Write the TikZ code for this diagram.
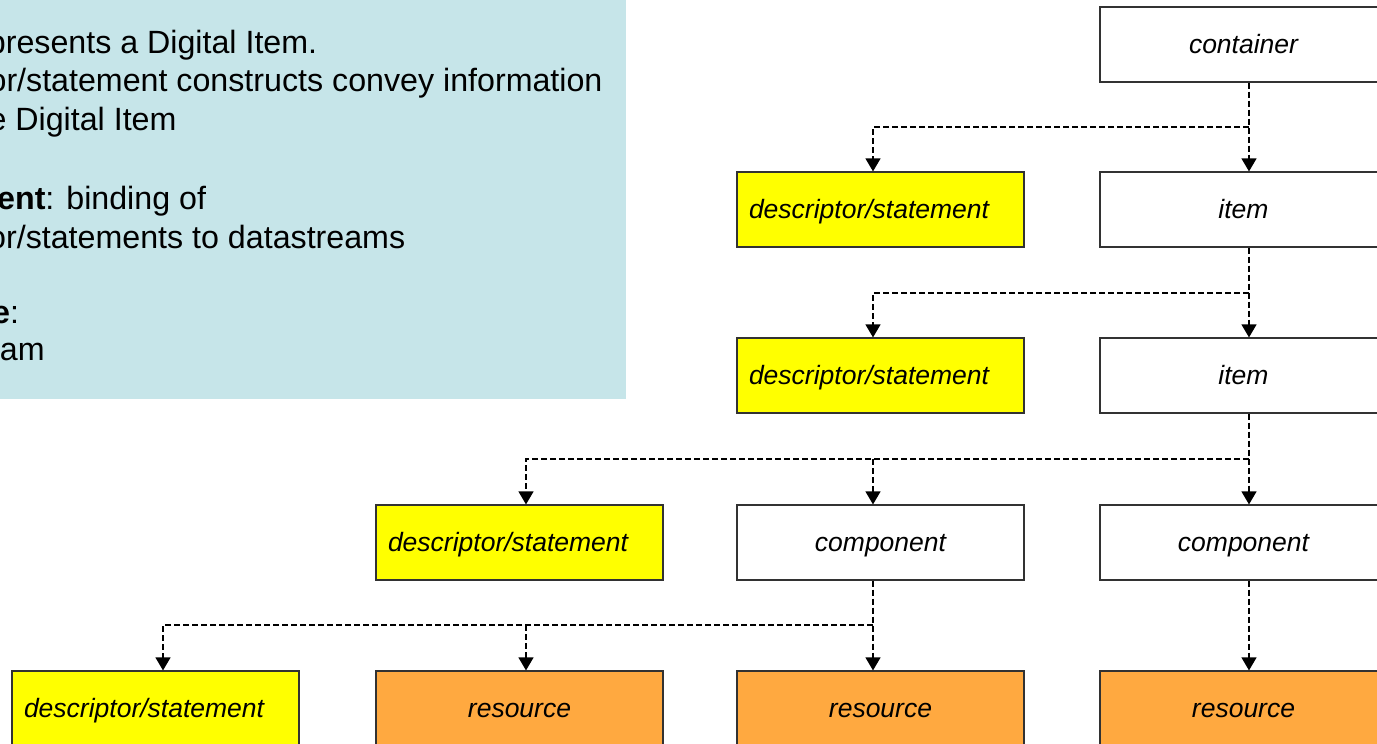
\documentclass[tikz,border=0pt]{standalone}
\usepackage{fontspec}
\setmainfont{Liberation Sans}
\usetikzlibrary{arrows.meta}
\definecolor{boxblue}{RGB}{198,229,233}
\definecolor{descyel}{RGB}{255,255,0}
\definecolor{resorange}{RGB}{255,169,64}
\definecolor{boxline}{RGB}{50,50,50}
\begin{document}
\begin{tikzpicture}[x=1pt,y=-1pt,
  box/.style={draw=boxline, line width=1.2pt, minimum width=287pt, minimum height=75pt,
    inner sep=0pt, text height=21pt, text depth=4pt, font=\fontsize{26.5}{30}\selectfont\itshape},
  plainbox/.style={box, fill=white},
  descbox/.style={box, fill=descyel, text width=263pt, align=left},
  resbox/.style={box, fill=resorange},
  dline/.style={draw=black, line width=1.2pt, dash pattern=on 6pt off 3pt},
  conn/.style={dline, -{Triangle[width=15pt,length=13pt]}},
  infotext/.style={anchor=base west, inner sep=0pt, font=\fontsize{32.2}{39}\selectfont}
]
\useasboundingbox (0,0) rectangle (1377,744);
\clip (0,0) rectangle (1377,744);

% info panel
\fill[boxblue] (-20,-20) rectangle (626,399);
\node[infotext] (t1) at (-12.3,53) {presents a Digital Item.};
\node[infotext] (t2) at (-11.6,91) {or/statement constructs convey information};
\node[infotext] (t3) at (-11.6,130) {e Digital Item};
\node[infotext] (t4) at (-3,209) {\textbf{ent}: binding of};
\node[infotext] (t5) at (-12,248) {or/statements to datastreams};
\node[infotext] (t6) at (-8,323) {\textbf{e}:};
\node[infotext] (t7) at (-0.3,360) {am};

% arrow columns
\coordinate (cA) at (163,0);
\coordinate (cB) at (526,0);
\coordinate (cC) at (873,0);
\coordinate (cD) at (1249,0);

% boxes
\node[plainbox] (cont) at (1243.5,44.5) {container};
\node[descbox] (d1) at (880.5,209.5) {descriptor/statement};
\node[plainbox] (item1) at (1243.5,209.5) {item};
\node[descbox] (d2) at (880.5,375.5) {descriptor/statement};
\node[plainbox] (item2) at (1243.5,375.5) {item};
\node[descbox] (d3) at (519.5,542.5) {descriptor/statement};
\node[plainbox] (comp1) at (880.5,542.5) {component};
\node[plainbox] (comp2) at (1243.5,542.5) {component};
\node[descbox] (d4) at (155.5,708.5) {descriptor/statement};
\node[resbox] (r1) at (519.5,708.5) {resource};
\node[resbox] (r2) at (880.5,708.5) {resource};
\node[resbox] (r3) at (1243.5,708.5) {resource};

% junctions
\coordinate (j1) at (1249,127);
\coordinate (j2) at (1249,293);
\coordinate (j3) at (1249,459);
\coordinate (j4) at (873,625);

% connectors
\draw[conn] (cont.south -| cD) -- (item1.north -| cD);
\draw[conn] (j1) -| (d1.north -| cC);

\draw[conn] (item1.south -| cD) -- (item2.north -| cD);
\draw[conn] (j2) -| (d2.north -| cC);

\draw[conn] (item2.south -| cD) -- (comp2.north -| cD);
\draw[conn] (j3) -| (d3.north -| cB);
\draw[conn] (j3 -| cC) -- (comp1.north -| cC);

\draw[conn] (comp1.south -| cC) -- (r2.north -| cC);
\draw[conn] (j4) -| (d4.north -| cA);
\draw[conn] (j4 -| cB) -- (r1.north -| cB);

\draw[conn] (comp2.south -| cD) -- (r3.north -| cD);
\end{tikzpicture}
\end{document}
